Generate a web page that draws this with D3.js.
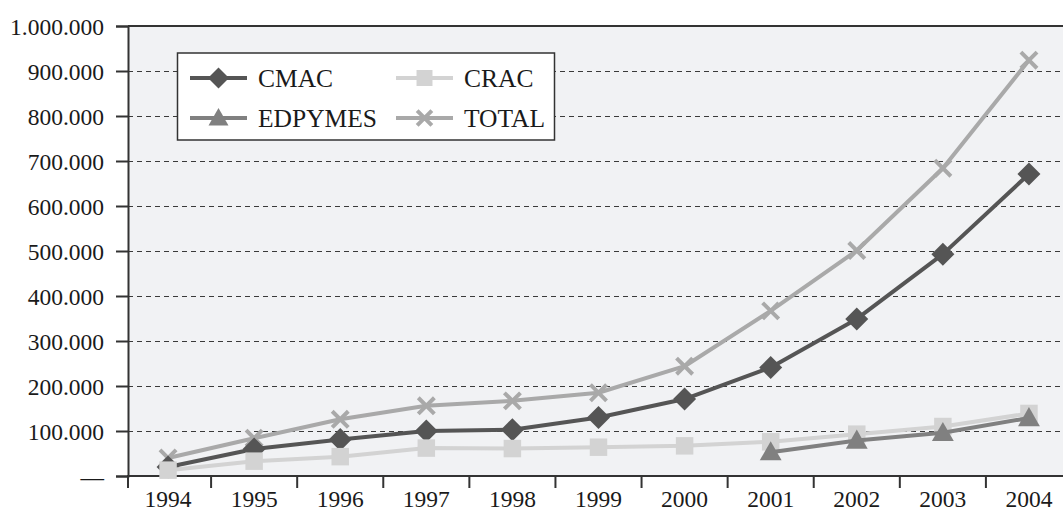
<!DOCTYPE html>
<html><head><meta charset="utf-8">
<script src="https://cdn.jsdelivr.net/npm/d3@7"></script>
<style>body{margin:0;background:#fff}svg{display:block}</style>
</head><body>
<svg id="c" width="1063" height="514"></svg>
<script>
const years = ["1994","1995","1996","1997","1998","1999","2000","2001","2002","2003","2004"];
const cmac = [20000,60000,81000,100000,103000,130000,171000,241000,349000,493000,671000];
const crac = [13000,33000,43000,62000,61000,64000,67000,76000,93000,110000,139000];
const edpymes = [null,null,null,null,null,null,null,53000,79000,96000,129000];
const total = [40000,84000,126000,156000,167000,185000,244000,367000,501000,684000,924000];
const yTicks = [0,100000,200000,300000,400000,500000,600000,700000,800000,900000,1000000];
const yTickLabels = ["—","100.000","200.000","300.000","400.000","500.000","600.000","700.000","800.000","900.000","1.000.000"];

const series = [
  {name:"TOTAL", values: total, color:"#a9a9a9", marker:"x"},
  {name:"CMAC", values: cmac, color:"#555555", marker:"diamond"},
  {name:"CRAC", values: crac, color:"#d3d3d3", marker:"square"},
  {name:"EDPYMES", values: edpymes, color:"#808080", marker:"triangle"}
];

const svg = d3.select("#c");
const L = 128, T = 26, B = 476, R = 1072;
const x = d3.scaleBand().domain(years).range([125, R]);
const y = d3.scaleLinear().domain([0,1000000]).range([B, T]);
const font = "'Liberation Serif','Times New Roman',serif";

svg.append("rect").attr("x",L).attr("y",T).attr("width",1063-L).attr("height",B-T).attr("fill","#f1f2f4");

// gridlines
svg.append("g").selectAll("line").data(yTicks.slice(1,-1)).join("line")
  .attr("x1",L).attr("x2",1063).attr("y1",d=>Math.round(y(d))+0.5).attr("y2",d=>Math.round(y(d))+0.5)
  .attr("stroke","#3a3a3a").attr("stroke-width",1).attr("stroke-dasharray","5,4");

// top border
svg.append("line").attr("x1",L).attr("x2",1063).attr("y1",T).attr("y2",T).attr("stroke","#333").attr("stroke-width",2);

// y axis
const yAxis = d3.axisLeft(y).tickValues(yTicks).tickSize(12).tickPadding(12)
  .tickFormat((d,i)=>yTickLabels[i]);
const gy = svg.append("g").attr("transform",`translate(${L},0)`).call(yAxis);
gy.select(".domain").attr("stroke","#333").attr("stroke-width",2);
gy.selectAll(".tick line").attr("stroke","#333").attr("stroke-width",2);
gy.selectAll(".tick text").attr("font-family",font).attr("font-size",23.5).attr("fill","#1a1a1a").attr("dy","0.34em");

// x axis
const xAxis = d3.axisBottom(x).tickSize(0).tickPadding(14);
const gx = svg.append("g").attr("transform",`translate(0,${B})`).call(xAxis);
gx.select(".domain").remove();
gx.append("line").attr("x1",L-1).attr("x2",1063).attr("y1",0).attr("y2",0).attr("stroke","#333").attr("stroke-width",2);
gx.selectAll(".tick text").attr("font-family",font).attr("font-size",23.5).attr("fill","#1a1a1a");
// tick marks between categories
gx.append("g").selectAll("line").data(years.slice(1)).join("line")
  .attr("x1",d=>x(d)).attr("x2",d=>x(d)).attr("y1",0).attr("y2",12)
  .attr("stroke","#333").attr("stroke-width",2);
gx.append("line").attr("x1",L).attr("x2",L).attr("y1",0).attr("y2",12).attr("stroke","#333").attr("stroke-width",2);

const cx = d => x(d) + x.bandwidth()/2;

function drawMarker(g, type, color, px, py, s){
  if(type==="diamond"){
    g.append("path").attr("d",`M${px},${py-s}L${px+s},${py}L${px},${py+s}L${px-s},${py}Z`).attr("fill",color);
  } else if(type==="square"){
    const h=s*0.76;
    g.append("rect").attr("x",px-h).attr("y",py-h).attr("width",2*h).attr("height",2*h).attr("fill",color);
  } else if(type==="triangle"){
    const w=s*0.95;
    g.append("path").attr("d",`M${px},${py-w}L${px+w},${py+w*0.75}L${px-w},${py+w*0.75}Z`).attr("fill",color);
  } else if(type==="x"){
    const h=s*0.7;
    g.append("path").attr("d",`M${px-h},${py-h}L${px+h},${py+h}M${px+h},${py-h}L${px-h},${py+h}`)
      .attr("stroke",color).attr("stroke-width",4).attr("fill","none");
  }
}

const plot = svg.append("g");
const line = d3.line().defined(d=>d.v!=null).x(d=>cx(d.year)).y(d=>y(d.v));
series.forEach(s=>{
  const pts = years.map((yr,i)=>({year:yr, v:s.values[i]}));
  const g = plot.append("g");
  g.append("path").datum(pts).attr("d",line).attr("fill","none").attr("stroke",s.color).attr("stroke-width",4).attr("stroke-linejoin","round");
  pts.filter(p=>p.v!=null).forEach(p=>drawMarker(g,s.marker,s.color,cx(p.year),y(p.v),11.5));
});

// legend
const lg = svg.append("g");
lg.append("rect").attr("x",177.5).attr("y",53).attr("width",377).attr("height",87).attr("fill","#fff").attr("stroke","#333").attr("stroke-width",1.5);
const legendItems = [
  {name:"CMAC", col:0,row:0}, {name:"CRAC", col:1,row:0},
  {name:"EDPYMES", col:0,row:1}, {name:"TOTAL", col:1,row:1}
];
legendItems.forEach(it=>{
  const s = series.find(d=>d.name===it.name);
  const x0 = it.col===0 ? 190 : 396;
  const yy = it.row===0 ? 78 : 118;
  lg.append("line").attr("x1",x0).attr("x2",x0+57).attr("y1",yy).attr("y2",yy).attr("stroke",s.color).attr("stroke-width",4);
  drawMarker(lg,s.marker,s.color,x0+28.5,yy,10.5);
  lg.append("text").attr("x",x0+68).attr("y",yy).attr("dy","0.35em").attr("font-family",font).attr("font-size",25.5).attr("fill","#1a1a1a").text(s.name);
});
</script>
</body></html>
